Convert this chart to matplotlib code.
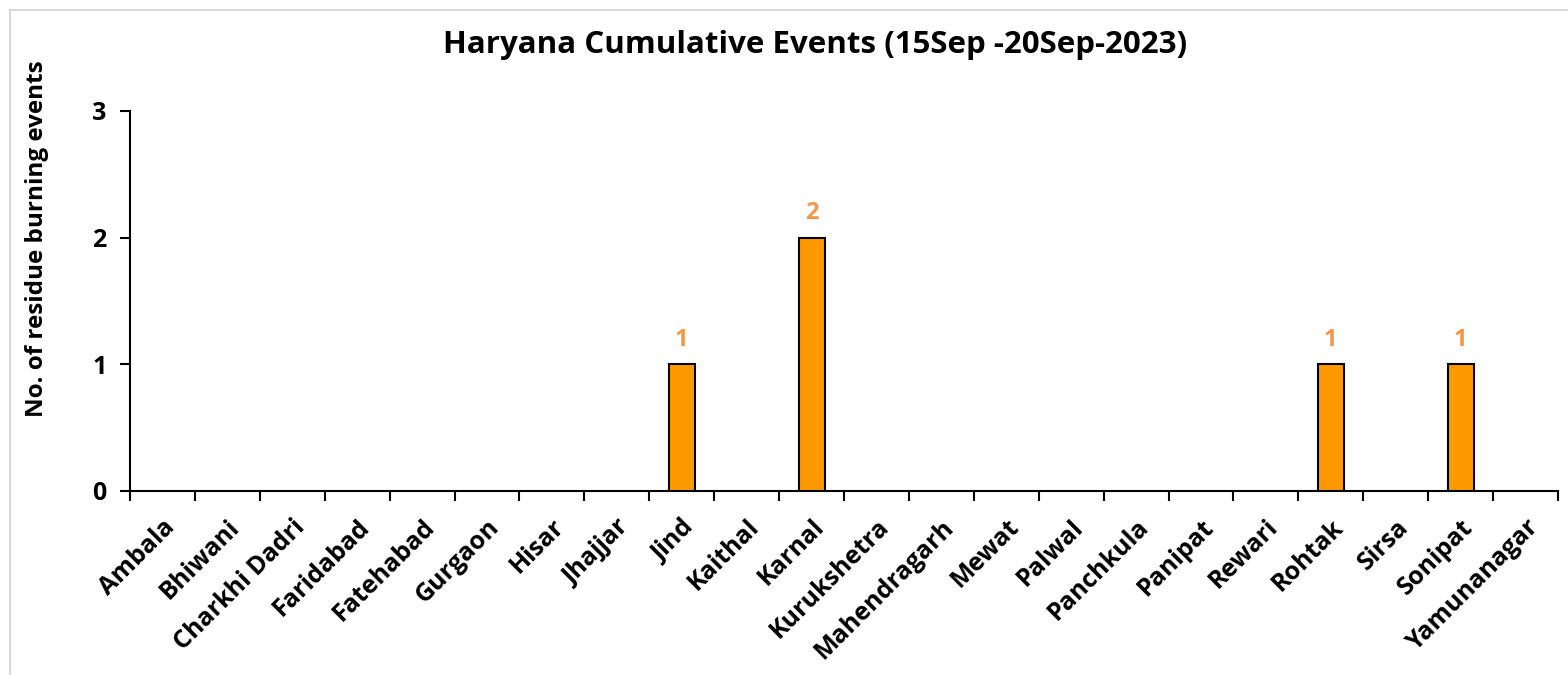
import numpy as np
import matplotlib.pyplot as plt
from matplotlib.lines import Line2D

districts = ['Ambala', 'Bhiwani', 'Charkhi Dadri', 'Faridabad', 'Fatehabad', 'Gurgaon',
             'Hisar', 'Jhajjar', 'Jind', 'Kaithal', 'Karnal', 'Kurukshetra',
             'Mahendragarh', 'Mewat', 'Palwal', 'Panchkula', 'Panipat', 'Rewari',
             'Rohtak', 'Sirsa', 'Sonipat', 'Yamunanagar']
events = [0, 0, 0, 0, 0, 0, 0, 0, 1, 0, 2, 0, 0, 0, 0, 0, 0, 0, 1, 0, 1, 0]

plt.rcParams['font.family'] = ['Open Sans', 'DejaVu Sans']
plt.rcParams['font.weight'] = 'bold'

fig = plt.figure(figsize=(15.68, 6.75), dpi=100)
ax = fig.add_axes([0.0829, 0.2726, 0.9107, 0.563])

x = np.arange(len(districts))
bars = ax.bar(x, events, width=0.4, color='#FF9900', edgecolor='black', linewidth=1.5, zorder=3)
# Excel draws no outline for empty bars
for b, v in zip(bars, events):
    if v == 0:
        b.set_linewidth(0)

for xi, v in zip(x, events):
    if v > 0:
        ax.text(xi, v + 0.1, str(v), ha='center', va='bottom', color='#F79646',
                fontsize=17, fontweight='bold')

ax.set_xlim(-0.5, len(districts) - 0.5)
ax.set_ylim(0, 3)
ax.set_yticks([0, 1, 2, 3])
ax.tick_params(axis='y', labelsize=18, length=7, width=1.5, pad=10)

# category boundary ticks on x
ax.set_xticks(np.arange(len(districts) + 1) - 0.5)
ax.set_xticklabels([])
ax.tick_params(axis='x', which='major', length=7, width=1.5)
ax.set_xticks(x, minor=True)
ax.set_xticklabels(districts, minor=True, rotation=45, ha='right', rotation_mode='anchor',
                   fontsize=18, fontweight='bold')
ax.tick_params(axis='x', which='minor', length=0, pad=17)

for s in ['top', 'right']:
    ax.spines[s].set_visible(False)
ax.spines['left'].set_linewidth(1.5)
ax.spines['bottom'].set_linewidth(1.5)

ax.set_ylabel('No. of residue burning events', fontsize=17.5, fontweight='bold', labelpad=31)
ax.yaxis.label.set_y(0.665)
ax.set_title('Haryana Cumulative Events (15Sep -20Sep-2023)', fontsize=22.5, fontweight='bold',
             pad=42, x=0.48)

# light frame around chart area
fig.add_artist(Line2D([10 / 1568, 10 / 1568], [0, 1 - 10 / 675], transform=fig.transFigure,
                      color='#D9D9D9', linewidth=1.5))
fig.add_artist(Line2D([10 / 1568, 1], [1 - 10 / 675, 1 - 10 / 675], transform=fig.transFigure,
                      color='#D9D9D9', linewidth=1.5))

fig.savefig('out.png', dpi=100)
